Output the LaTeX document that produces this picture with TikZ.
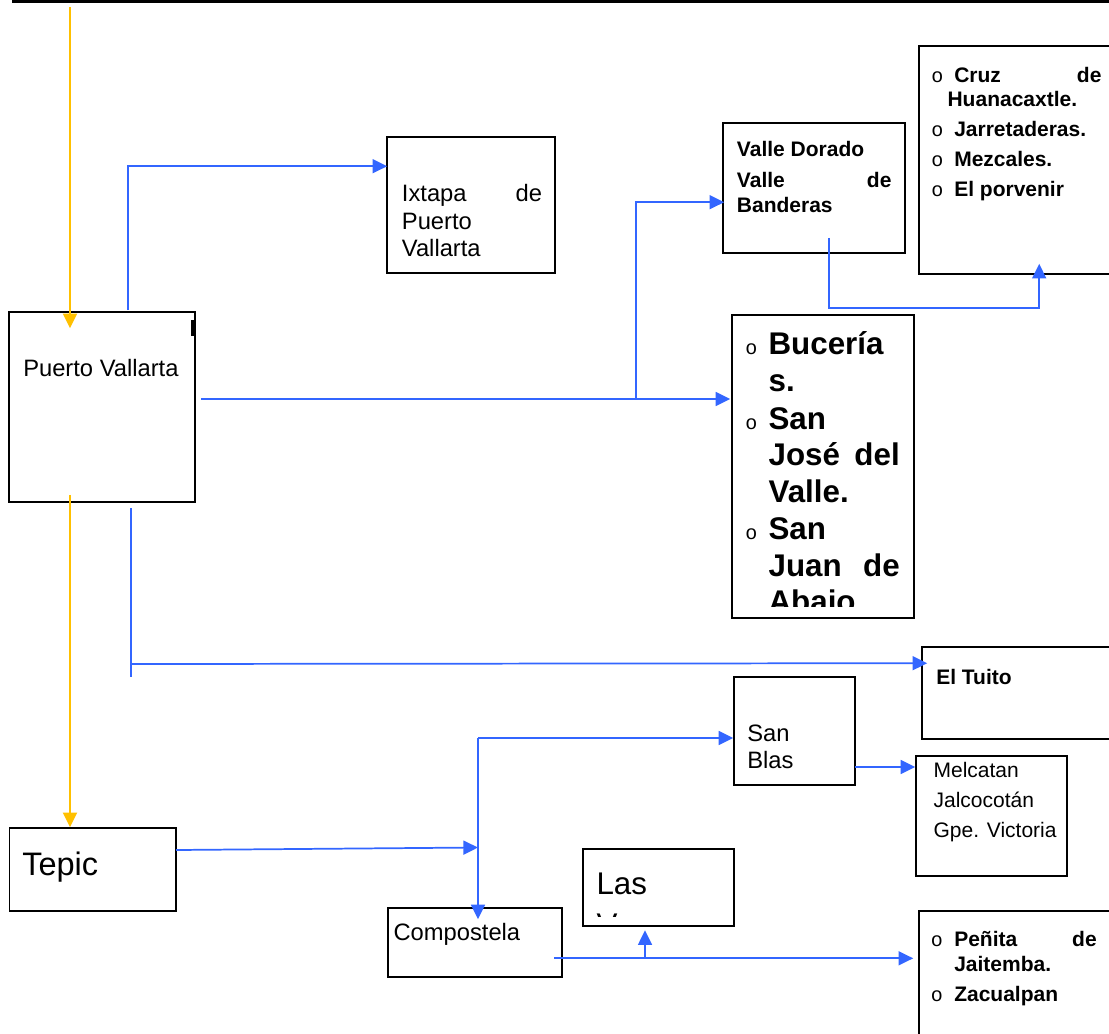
\documentclass[tikz,border=0pt]{standalone}
\usepackage{fontspec}
\setmainfont{Liberation Sans}
\newfontfamily\bulletfont{Liberation Mono}
\usetikzlibrary{arrows.meta, fit, calc}

\definecolor{linkblue}{RGB}{51,102,255}
\definecolor{feedgold}{RGB}{255,192,0}

\newcommand{\txtmid}{\fontsize{17.8pt}{20pt}\selectfont}
\newcommand{\txtsml}{\fontsize{15.75pt}{18pt}\selectfont}
\newcommand{\txtbld}{\fontsize{15.75pt}{18pt}\selectfont\bfseries}
\newcommand{\txtbig}{\fontsize{23.5pt}{26pt}\selectfont}
\newcommand{\bul}{{\bulletfont\fontsize{15pt}{15pt}\selectfont o}}

\begin{document}
\begin{tikzpicture}[x=0.75pt, y=-0.75pt,
  box/.style={draw, line width=1.2pt, inner sep=0pt},
  link/.style={draw=linkblue, line width=1.3pt, -{Triangle[length=11pt, width=10.5pt]}},
  wire/.style={draw=linkblue, line width=1.3pt},
  feed/.style={draw=feedgold, line width=1.6pt, -{Triangle[length=11pt, width=10.5pt]}},
  lbl/.style={anchor=base west, inner sep=0pt},
  lblr/.style={anchor=base east, inner sep=0pt}]

\useasboundingbox (0,0) rectangle (1109,1034);
\clip (0,0) rectangle (1109,1034);

% Top rule
\draw[line width=2.4pt] (12,1.6) -- (1109,1.6);

% Boxes
\node[box, fit={(9,312) (195,502)}] (pv) {};
\node[box, fit={(387,137) (555,273)}] (ixtapa) {};
\node[box, fit={(723,123) (905,253)}] (vd) {};
\node[box, fit={(919,46) (1120,274)}] (cruz) {};
\node[box, fit={(732,315) (914,618)}] (buc) {};
\node[box, fit={(922,647) (1120,739)}] (tuito) {};
\node[box, fit={(734,677) (855,785)}] (sb) {};
\node[box, fit={(916,756) (1067,876)}] (melc) {};
\node[box, fit={(9.6,828) (176,911)}] (tepic) {};
\node[box, fit={(388,908) (562,977)}] (comp) {};
\node[box, fit={(583,849) (734,926)}] (las) {};
\node[box, fit={(919,911) (1120,1045)}] (pen) {};

% Texts
\node[lbl] (pv-t) at (23,376) {\txtmid Puerto Vallarta};
\fill (191,320) rectangle (193.5,336);

\node[lbl] (ix-1) at (401.7,201.7) {\txtmid Ixtapa};
\node[lblr] (ix-2) at (542.3,201.7) {\txtmid de};
\node[lbl] (ix-3) at (401.7,229) {\txtmid Puerto};
\node[lbl] (ix-4) at (401.7,256.7) {\txtmid Vallarta};

\node[lbl] (vd-1) at (736.7,157) {\txtbld Valle Dorado};
\node[lbl] (vd-2) at (736.7,188) {\txtbld Valle};
\node[lblr] (vd-3) at (891.7,188) {\txtbld de};
\node[lbl] (vd-4) at (736.7,213) {\txtbld Banderas};

\node[lbl] (cr-b1) at (931,83) {\bul};
\node[lbl] (cr-1) at (954,83) {\txtbld Cruz};
\node[lblr] (cr-2) at (1101.7,83) {\txtbld de};
\node[lbl] (cr-3) at (947.3,107) {\txtbld Huanacaxtle.};
\node[lbl] (cr-b2) at (931,137) {\bul};
\node[lbl] (cr-4) at (954,137) {\txtbld Jarretaderas.};
\node[lbl] (cr-b3) at (931,167) {\bul};
\node[lbl] (cr-5) at (954,167) {\txtbld Mezcales.};
\node[lbl] (cr-b4) at (931,196.5) {\bul};
\node[lbl] (cr-6) at (954,196.5) {\txtbld El porvenir};

\begin{scope}
\clip (732,315) rectangle (914,606);
\node[lbl] (bu-b1) at (745,354.3) {\bul};
\node[lbl] (bu-1) at (768.3,354.3) {\txtbig\bfseries Bucería};
\node[lbl] (bu-2) at (768.3,391) {\txtbig\bfseries s.};
\node[lbl] (bu-b2) at (745,429.3) {\bul};
\node[lbl] (bu-3) at (768.3,429.3) {\txtbig\bfseries San};
\node[lbl] (bu-4) at (768.3,465.7) {\txtbig\bfseries José};
\node[lblr] (bu-5) at (900,465.7) {\txtbig\bfseries del};
\node[lbl] (bu-6) at (768.3,502.3) {\txtbig\bfseries Valle.};
\node[lbl] (bu-b3) at (745,539) {\bul};
\node[lbl] (bu-7) at (768.3,539) {\txtbig\bfseries San};
\node[lbl] (bu-8) at (768.3,576) {\txtbig\bfseries Juan};
\node[lblr] (bu-9) at (900,576) {\txtbig\bfseries de};
\node[lbl] (bu-10) at (768.3,612.7) {\txtbig\bfseries Abajo};
\end{scope}

\node[lbl] (tu-t) at (936,684) {\txtbld El Tuito};

\node[lbl] (sb-1) at (747,741.7) {\txtmid San};
\node[lbl] (sb-2) at (747,768) {\txtmid Blas};

\node[lbl] (me-1) at (933.3,777.7) {\txtsml Melcatan};
\node[lbl] (me-2) at (933.3,807.7) {\txtsml Jalcocotán};
\node[lbl] (me-3) at (933.3,837.7) {\txtsml Gpe. Victoria};

\node[lbl] (te-t) at (22,875) {\fontsize{24.4pt}{27pt}\selectfont Tepic};
\node[lbl] (co-t) at (393.3,940) {\txtmid Compostela};

\begin{scope}
\clip (583,849) rectangle (734,916.5);
\node[lbl] (la-1) at (596.3,894) {\txtbig Las};
\node[lbl] (la-2) at (596.3,935.5) {\txtbig Varas};
\end{scope}

\node[lbl] (pe-b1) at (930.5,946) {\bul};
\node[lbl] (pe-1) at (954,946) {\txtbld Peñita};
\node[lblr] (pe-2) at (1097,946) {\txtbld de};
\node[lbl] (pe-3) at (954,971) {\txtbld Jaitemba.};
\node[lbl] (pe-b2) at (930.5,1001.7) {\bul};
\node[lbl] (pe-4) at (954,1001.7) {\txtbld Zacualpan};

% Free ends
\coordinate (start) at (70,7);
\coordinate (pv-n) at (128,310);
\coordinate (pv-e) at (201,399);
\coordinate (pv-s) at (131,508);
\coordinate (fork) at (636,399);
\coordinate (vd-s) at (829,238);
\coordinate (tuito-fork) at (131,664);
\coordinate (tepic-e) at (176,850);
\coordinate (junc) at (478,847.5);
\coordinate (sb-fork) at (478,738);
\coordinate (sb-e) at (855,767);
\coordinate (comp-e) at (554,958.3);
\coordinate (las-fork) at (645,958.3);

% Yellow flow
\draw[feed] (start) -- ($(pv.north -| start)+(0,17)$);
\draw[feed] ($(pv.south -| start)+(0,-8)$) -- (tepic.north -| start);

% Blue connectors
\draw[link] (pv-n) |- ($(ixtapa.north west)+(1,30)$);
\draw[link] (pv-e) -- ($(buc.west |- pv-e)+(-1,0)$);
\draw[link] (fork) |- ($(vd.north west)+(2,80)$);
\draw[link] (vd-s) -- ++(0,70) -| ($(cruz.south west)+(121,-11)$);
\draw[wire] (pv-s) -- ++(0,169);
\draw[link] (tuito-fork) -- ($(tuito.north west)+(6,17)$);
\draw[link] (tepic-e) -- (junc);
\draw[link] (sb-fork) -- ($(comp.north -| sb-fork)+(0,12)$);
\draw[link] (sb-fork) -- (sb.west |- sb-fork);
\draw[link] (sb-e) -- (melc.west |- sb-e);
\draw[link] (comp-e) -- ($(pen.west |- comp-e)+(-5,0)$);
\draw[link] (las-fork) -- ($(las.south -| las-fork)+(0,3.5)$);

\end{tikzpicture}
\end{document}
